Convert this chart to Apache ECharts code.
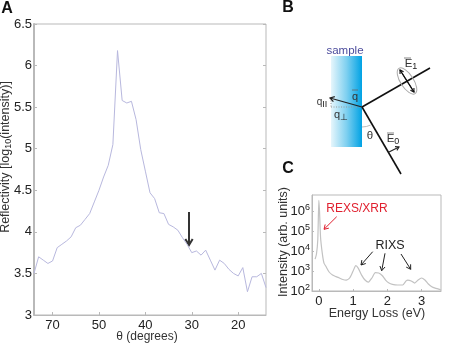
<!DOCTYPE html>
<html><head><meta charset="utf-8">
<style>html,body{margin:0;padding:0;background:#fff}#c{width:454px;height:344px}</style>
<script src="https://cdn.jsdelivr.net/npm/echarts@6/dist/echarts.min.js"></script>
</head><body><div id="c"></div>
<script>
// Panel A data
const thetaA = [64,63,62,61,60,59,58,57,56,55,54,53,52,51,50,49,48,47,46,45,44,43,42,41,40,39,38,37,36,35,34,33,32,31,30,29,28,27,26,25,24,23,22,21,20,19,18,17,16,15,14];
const reflA = [3.5,3.7,3.66,3.62,3.65,3.81,3.85,3.89,3.94,4.05,4.08,4.15,4.22,4.36,4.5,4.66,4.8,5.05,6.18,5.58,5.55,5.57,5.35,4.99,4.73,4.47,4.4,4.23,4.22,4.09,4.06,4.02,3.93,3.85,3.75,3.77,3.72,3.78,3.66,3.54,3.66,3.62,3.55,3.5,3.47,3.57,3.28,3.46,3.46,3.5,3.33];
const tickPosA = [60,50,40,30,20];
const tickLabelsA = ['70','50','40','30','20'];
// Panel C data
const energyC = [-0.11,-0.07,-0.03,0,0.02,0.05,0.1,0.15,0.2,0.3,0.4,0.5,0.6,0.7,0.8,0.9,1.0,1.08,1.15,1.25,1.35,1.45,1.55,1.65,1.75,1.85,1.95,2.05,2.15,2.3,2.45,2.55,2.6,2.7,2.8,2.9,3.0,3.1,3.2,3.3,3.4,3.5,3.57];
const intensityC = [4000,7000,40000,3600000,1000000,50000,8000,2500,1800,900,630,525,450,380,355,450,1000,1860,1400,630,355,280,450,830,800,600,355,250,215,200,200,320,355,320,250,355,450,355,225,165,140,125,112];
const tickPosC = [0,1,2,3];
const decadeTicksC = [2,3,4,5,6];

const font = '"Liberation Sans", Arial, sans-serif';
const boxGray = '#b9b9b9';
const ink = '#222';

function line(x1,y1,x2,y2,color,width,dash){
  return {type:'line',silent:true,shape:{x1,y1,x2,y2},style:{stroke:color,lineWidth:width,lineDash:dash||null}};
}
function arrow(x1,y1,x2,y2,color,width,head){
  const a = Math.atan2(y2-y1,x2-x1), h = head||5, s = 0.55;
  return [line(x1,y1,x2,y2,color,width),
    {type:'polyline',silent:true,shape:{points:[
      [x2-h*Math.cos(a-s),y2-h*Math.sin(a-s)],[x2,y2],[x2-h*Math.cos(a+s),y2-h*Math.sin(a+s)]]},
      style:{stroke:color,lineWidth:width,fill:null}}];
}
function text(x,y,t,size,color,extra){
  return Object.assign({type:'text',silent:true,x,y,style:Object.assign({text:t,fontFamily:font,fontSize:size,fill:color,align:'center',verticalAlign:'middle'},extra||{})});
}
const subRich = {s:{fontSize:9,fontFamily:font,fill:ink,verticalAlign:'bottom',padding:[6,0,0,0]}};

const cx = 362, cy = 107;
const graphics = [
  text(7,9,'A',16,'#111',{fontWeight:'bold'}),
  text(288,8,'B',16,'#111',{fontWeight:'bold'}),
  text(288,169,'C',16,'#111',{fontWeight:'bold'}),
  // Panel A arrow
  ...arrow(189,212,189,245,'#333',2,7),
  // Panel A axis titles
  text(147,337,'θ (degrees)',12,'#333'),
  {type:'text',silent:true,x:6,y:157,rotation:Math.PI/2,style:{text:'Reflectivity [log{s|10}(intensity)]',rich:subRich,fontFamily:font,fontSize:12.5,fill:'#333',align:'center',verticalAlign:'middle'}},
  // Panel B
  {type:'rect',silent:true,shape:{x:331,y:56,width:31,height:91},style:{fill:{type:'linear',x:0,y:0,x2:1,y2:0,colorStops:[{offset:0,color:'#e6f6fc'},{offset:0.5,color:'#7fd0f0'},{offset:1,color:'#00a2e4'}]}}},
  text(345,51,'sample',11.5,'#4b4b9c'),
  line(cx,cy,331,107,'#999',1,[1,1.5]),
  line(331,98,331,107,'#999',1,[1,1.5]),
  line(cx,cy,430,68,'#111',1.6),
  line(cx,cy,401,174,'#111',1.6),
  ...arrow(cx,cy,330,98,'#222',1.2,5),
  {type:'arc',silent:true,shape:{cx,cy,r:20,startAngle:Math.PI*0.36,endAngle:Math.PI*0.5},style:{stroke:'#bbb',lineWidth:1,fill:null}},
  {type:'ellipse',silent:true,x:407,y:81,rotation:-1.0,shape:{cx:0,cy:0,rx:15,ry:6.5},style:{stroke:'#aaa',lineWidth:1,fill:null}},
  ...arrow(400,70,414,92,'#111',1.1,4),
  ...arrow(414,92,400,70,'#111',1.1,4),
  ...arrow(389,152,399,147,'#222',1.1,4),
  text(355,97,'q',11,'#333'),
  line(352,90,358,90,'#666',0.8),
  {type:'text',silent:true,x:322,y:102,style:{text:'q{s|II}',rich:subRich,fontFamily:font,fontSize:10,fill:'#333',align:'center',verticalAlign:'middle'}},
  {type:'text',silent:true,x:341,y:115,style:{text:'q{s|⊥}',rich:subRich,fontFamily:font,fontSize:11,fill:'#333',align:'center',verticalAlign:'middle'}},
  text(370,136,'θ',11.5,'#333'),
  {type:'text',silent:true,x:393,y:139,style:{text:'E{s|0}',rich:subRich,fontFamily:font,fontSize:11.5,fill:'#333',align:'center',verticalAlign:'middle'}},
  line(387,133,394,133,'#666',0.8),
  {type:'text',silent:true,x:411,y:64,style:{text:'E{s|1}',rich:subRich,fontFamily:font,fontSize:11.5,fill:'#333',align:'center',verticalAlign:'middle'}},
  line(404,58,411,58,'#666',0.8),
  // Panel C annotations
  text(357,209,'REXS/XRR',12,'#e0202f'),
  ...arrow(336.7,216.7,324,229.3,'#e0202f',1,5),
  text(390,246,'RIXS',12.5,'#222'),
  ...arrow(372.7,251.7,361,265,'#222',1,5),
  ...arrow(385,253.3,381.7,270.7,'#222',1,5),
  ...arrow(401,254,410.7,269.3,'#222',1,5),
  text(377,314,'Energy Loss (eV)',12.5,'#333'),
  {type:'text',silent:true,x:284,y:242,rotation:Math.PI/2,style:{text:'Intensity (arb. units)',fontFamily:font,fontSize:12.5,fill:'#333',align:'center',verticalAlign:'middle'}}
];

const chart = echarts.init(document.getElementById('c'),null,{renderer:'canvas'});
const tickStyle = {lineStyle:{color:boxGray,width:1},length:3,inside:true};
chart.setOption({
  animation:false,
  backgroundColor:'#fff',
  grid:[
    {left:34,top:24,width:232,height:291,show:true,borderColor:boxGray,borderWidth:1,backgroundColor:'#fff'},
    {left:312,top:195,width:129,height:96,show:true,borderColor:boxGray,borderWidth:1,backgroundColor:'#fff'}
  ],
  xAxis:[
    {gridIndex:0,type:'value',inverse:true,min:14,max:64,
      axisLine:{show:true,onZero:false,lineStyle:{color:boxGray,width:1}},
      axisTick:Object.assign({show:true,customValues:tickPosA},tickStyle),
      splitLine:{show:false},
      axisLabel:{customValues:tickPosA,color:ink,fontFamily:font,fontSize:13,margin:4,
        formatter:v=>tickLabelsA[tickPosA.indexOf(v)]}},
    {gridIndex:1,type:'value',min:-0.2,max:3.57,
      axisLine:{show:true,onZero:false,lineStyle:{color:boxGray,width:1}},
      axisTick:Object.assign({show:true,customValues:tickPosC},tickStyle,{length:2}),
      splitLine:{show:false},
      axisLabel:{customValues:tickPosC,color:ink,fontFamily:font,fontSize:13,margin:4,formatter:v=>String(v)}}
  ],
  yAxis:[
    {gridIndex:0,type:'value',min:3,max:6.5,interval:0.5,
      axisLine:{show:true,onZero:false,lineStyle:{color:boxGray,width:2}},
      axisTick:Object.assign({show:true},tickStyle),splitLine:{show:false},
      axisLabel:{color:ink,fontFamily:font,fontSize:13,margin:2}},
    {gridIndex:0,type:'value',position:'right',min:3,max:6.5,interval:0.5,
      axisLine:{show:false},axisTick:Object.assign({show:true},tickStyle),axisLabel:{show:false},splitLine:{show:false}},
    {gridIndex:1,type:'value',min:2,max:6.82,
      axisLine:{show:true,onZero:false,lineStyle:{color:boxGray,width:1}},
      axisTick:Object.assign({show:true,customValues:decadeTicksC},tickStyle,{length:2}),splitLine:{show:false},
      axisLabel:{customValues:decadeTicksC,color:ink,fontFamily:font,fontSize:13,margin:2,
        formatter:v=>'10{e|'+v+'}',
        rich:{e:{fontSize:9,fontFamily:font,color:ink,padding:[0,0,7,0]}}}}
  ],
  series:[
    {type:'line',xAxisIndex:0,yAxisIndex:0,showSymbol:false,silent:true,
      data:thetaA.map((t,i)=>[t,reflA[i]]),lineStyle:{color:'#b8b8de',width:1}},
    {type:'line',xAxisIndex:1,yAxisIndex:2,showSymbol:false,silent:true,smooth:0.2,
      data:energyC.map((e,i)=>[e,Math.log10(intensityC[i])]),lineStyle:{color:'#c2c2c2',width:1.2}}
  ],
  graphic:{elements:graphics}
});
</script></body></html>
